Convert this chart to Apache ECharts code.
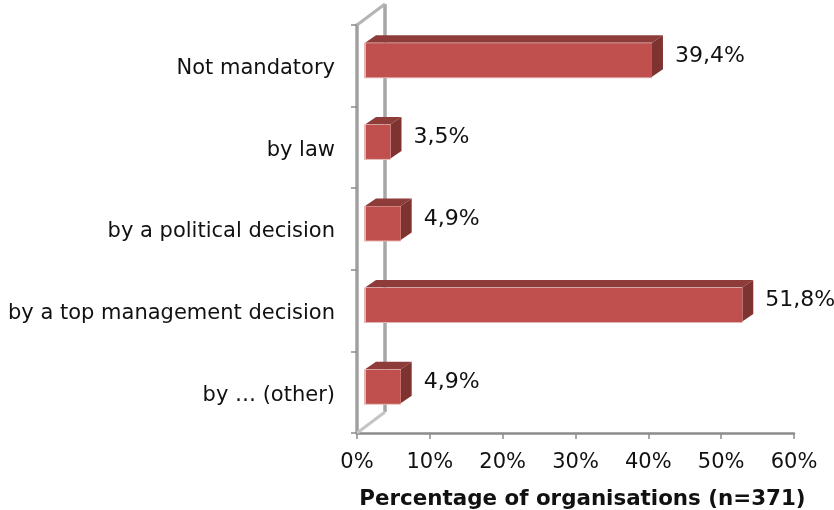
<!DOCTYPE html>
<html><head><meta charset="utf-8">
<style>html,body{margin:0;padding:0;background:#fff}#c{width:834px;height:510px}</style>
<script src="https://cdn.jsdelivr.net/npm/echarts@6/dist/echarts.min.js"></script>
</head><body><div id="c"></div>
<script>
const categories = ['Not mandatory','by law','by a political decision','by a top management decision','by … (other)'];
const values = [39.4, 3.5, 4.9, 51.8, 4.9];
const valueLabels = ['39,4%','3,5%','4,9%','51,8%','4,9%'];
const xTicks = [0,10,20,30,40,50,60];
const axisTitle = 'Percentage of organisations (n=371)';

const FONT = '"DejaVu Sans", Verdana, sans-serif';
const SHIFT_X = 8, SHIFT_Y = -6, BAR_H = 34, DX = 11, DY = 7.5;
const chart = echarts.init(document.getElementById('c'), null, {renderer:'canvas'});

function renderBar(params, api){
  const idx = api.value(0), v = api.value(1);
  const p0 = api.coord([0, idx]), p1 = api.coord([v, idx]);
  const x0 = p0[0] + SHIFT_X, x1 = p1[0] + SHIFT_X;
  const yc = p0[1] + SHIFT_Y, t = yc - BAR_H/2, b = yc + BAR_H/2;
  const poly = (pts, fill) => ({type:'polygon', shape:{points:pts}, style:{fill}});
  return {type:'group', children:[
    poly([[x0,t],[x0+DX,t-DY],[x1+DX,t-DY],[x1,t]], '#8e3c3a'),
    poly([[x1,t],[x1+DX,t-DY],[x1+DX,b-DY],[x1,b]], '#7e3331'),
    {type:'rect', shape:{x:x0-1,y:t,width:x1-x0+1,height:BAR_H+1.5}, style:{fill:'#e4b4b2'}},
    {type:'rect', shape:{x:x0+1,y:t+0.5,width:x1-x0-1,height:BAR_H}, style:{fill:'#c0504d'}},
    {type:'text', x:x1+DX+12, y:yc-4, style:{text:valueLabels[idx], font:'22px '+FONT, fill:'#111', textAlign:'left', textVerticalAlign:'middle'}}
  ]};
}
function renderWall(params){
  const c = params.coordSys;
  const l = c.x, t = c.y, b = c.y + c.height, bx = l + 28, d = 21;
  const line = (x1,y1,x2,y2,stroke,w) => ({type:'line', shape:{x1,y1,x2,y2}, style:{stroke,lineWidth:w}});
  return {type:'group', children:[
    line(bx,t-d,bx,b-d,'#a6a6a6',3.5),
    line(l,t,bx,t-d,'#b4b4b4',3),
    line(l,b,bx,b-d,'#c4c4c4',3)
  ]};
}
chart.setOption({
  animation:false,
  backgroundColor:'#fff',
  grid:{left:357, top:25, width:437, height:408, containLabel:false, outerBoundsMode:'none'},
  xAxis:{type:'value', min:0, max:60, interval:10,
    axisLine:{show:true, lineStyle:{color:'#8c8c8c', width:2.5}},
    axisTick:{show:true, length:6, lineStyle:{color:'#8c8c8c', width:1.5}},
    splitLine:{show:false},
    axisLabel:{formatter:v=>xTicks.includes(v)?v+'%':'', color:'#111', fontSize:21, fontFamily:FONT, margin:19, hideOverlap:false},
    name:axisTitle, nameLocation:'middle', nameGap:56,
    nameTextStyle:{fontWeight:'bold', fontSize:21.4, fontFamily:FONT, color:'#111', padding:[0,0,0,14]}
  },
  yAxis:{type:'category', data:categories, inverse:true,
    axisLine:{show:true, onZero:false, lineStyle:{color:'#a0a0a0', width:3.5}},
    axisTick:{show:true, length:6, alignWithLabel:false, lineStyle:{color:'#8c8c8c', width:1.5}},
    splitLine:{show:false},
    axisLabel:{color:'#111', fontSize:21, fontFamily:FONT, margin:22, interval:0, verticalAlign:'top', lineHeight:6}
  },
  series:[
    {type:'custom', coordinateSystem:'cartesian2d', z:1, data:[[0,0]], renderItem:renderWall, silent:true},
    {type:'custom', coordinateSystem:'cartesian2d', z:2, encode:{x:1,y:0},
     data:values.map((v,i)=>[i,v]), renderItem:renderBar}
  ]
});
</script></body></html>
